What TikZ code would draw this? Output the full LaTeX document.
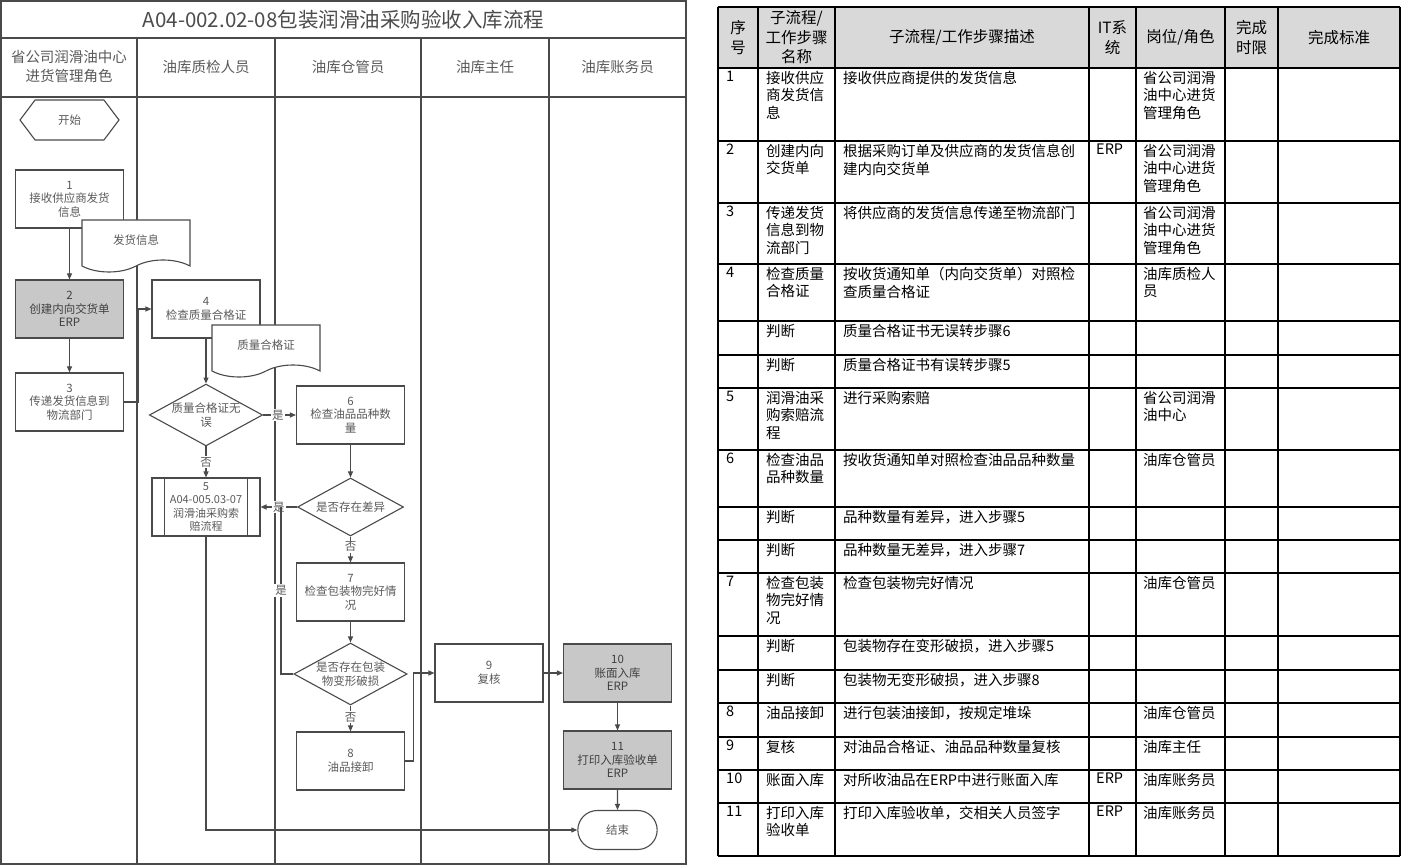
\documentclass[tikz,border=0pt]{standalone}
\usepackage{fontspec}
\setmainfont{Noto Sans CJK SC}
\usetikzlibrary{arrows.meta,shapes.geometric,shapes.symbols,shapes.misc}
\definecolor{lanecol}{HTML}{4A4A4A}
\definecolor{boxtxt}{HTML}{5A5A5A}
\definecolor{erpfill}{HTML}{C8C8C8}
\definecolor{headfill}{HTML}{D9D9D9}
\begin{document}
\begin{tikzpicture}[x=1pt,y=-1pt,
  every node/.style={font=\fontsize{11.5}{13.5}\selectfont,text=boxtxt},
  box/.style={draw=lanecol,line width=1.1pt,fill=white,minimum width=108pt,minimum height=58pt,inner sep=1pt,align=center},
  erpbox/.style={box,fill=erpfill,text=black!75},
  ppbox/.style={box,font=\fontsize{11}{13.5}\selectfont},
  dec/.style={draw=lanecol,line width=1.1pt,fill=white,diamond,aspect=1.83,minimum width=106pt,minimum height=58pt,inner sep=0pt,align=center},
  docbox/.style={draw=lanecol,line width=1.1pt,fill=white,tape,tape bend top=none,tape bend height=12pt,minimum width=108pt,minimum height=52pt,align=center},
  startbox/.style={draw=lanecol,line width=1.1pt,fill=white,signal,signal to=west and east,signal pointer angle=106,minimum width=99pt,minimum height=40pt},
  stopbox/.style={draw=lanecol,line width=1.1pt,fill=white,rounded rectangle,minimum width=86pt,minimum height=39pt},
  flow/.style={draw=lanecol,line width=1.1pt,-{Triangle[length=6pt,width=5pt]}},
  yesno/.style={fill=white,inner sep=1pt},
  lanehead/.style={align=center,font=\fontsize{14.5}{19}\selectfont},
  head/.style={align=center,text=black,font=\fontsize{15.5}{19.5}\selectfont},
  cell/.style={anchor=north west,inner sep=0pt,align=left,text=black,font=\fontsize{14.5}{17.5}\selectfont}]

\useasboundingbox (0,0) rectangle (1403,866);
\fill[white] (0,0) rectangle (1403,866);

% swimlanes
\draw[lanecol,line width=1.4pt] (1,1) rectangle (686,864);
\draw[lanecol,line width=1.4pt] (1,38) -- (686,38) (1,97) -- (686,97);
\foreach \lx in {137,275,421,549} \draw[lanecol,line width=1.4pt] (\lx,38) -- (\lx,864);
\node[font=\fontsize{20.5}{22}\selectfont,text=black!70] (title) at (343.5,20) {A04-002.02-08包装润滑油采购验收入库流程};
\node[lanehead] (lane1) at (69,67) {省公司润滑油中心\\进货管理角色};
\node[lanehead] (lane2) at (206,67) {油库质检人员};
\node[lanehead] (lane3) at (348,67) {油库仓管员};
\node[lanehead] (lane4) at (485,67) {油库主任};
\node[lanehead] (lane5) at (617.5,67) {油库账务员};

% steps
\node[startbox] (start) at (69.5,120) {开始};
\node[box] (s1) at (69.5,199) {1\\接收供应商发货\\信息};
\node[docbox] (doc1) at (136,240) {发货信息};
\node[erpbox] (s2) at (69.5,309) {2\\创建内向交货单\\ERP};
\node[box] (s3) at (69.5,402) {3\\传递发货信息到\\物流部门};
\node[box] (s4) at (206,309) {4\\检查质量合格证};
\node[docbox] (doc2) at (266,345) {质量合格证};
\node[dec] (d1) at (206,415) {质量合格证无\\误};
\node[box] (s6) at (350.5,415) {6\\检查油品品种数\\量};
\node[ppbox] (s5) at (206,507) {5\\A04-005.03-07\\润滑油采购索\\赔流程};
\draw[lanecol,line width=1.1pt] ([xshift=13pt]s5.north west) -- ([xshift=13pt]s5.south west) ([xshift=-13pt]s5.north east) -- ([xshift=-13pt]s5.south east);
\node[dec] (d2) at (350.5,507) {是否存在差异};
\node[box] (s7) at (350.5,592) {7\\检查包装物完好情\\况};
\node[dec] (d3) at (350.5,674) {是否存在包装\\物变形破损};
\node[box] (s8) at (350.5,761) {8\\油品接卸};
\node[box] (s9) at (489,673) {9\\复核};
\node[erpbox] (s10) at (617.5,673) {10\\账面入库\\ERP};
\node[erpbox] (s11) at (617.5,760) {11\\打印入库验收单\\ERP};
\node[stopbox] (stop) at (617.5,830) {结束};

\draw[flow] (s1) -- (s2);
\draw[flow] (s2) -- (s3);
\draw[flow] (s3.east) -- ++(14,0) |- (s4.west);
\draw[flow] (s4) -- (d1);
\draw[flow] (d1) -- node[yesno,pos=0.45]{是} (s6);
\draw[flow] (d1) -- node[yesno]{否} (s5);
\draw[flow] (s6) -- (d2);
\draw[flow] (d2) -- node[yesno,pos=0.5]{是} (s5);
\draw[flow] (d2) -- node[yesno,pos=0.4]{否} (s7);
\draw[flow] (s7) -- (d3);
\draw[flow] (d3) -- node[yesno,pos=0.45]{否} (s8);
\coordinate (back) at (281,507);
\draw[lanecol,line width=1.1pt] (d3.west) -| node[yesno,pos=0.75]{是} (back);
\draw[flow] (s8.east) -- ++(8,0) |- (s9.west);
\draw[flow] (s9) -- (s10);
\draw[flow] (s10) -- (s11);
\draw[flow] (s11) -- (stop);
\draw[flow] (s5) |- (stop);

% step table
\fill[headfill] (718,7) rectangle (1400,68);
\foreach \ry in {7,68,141,203,264,321,355,388,450,507,540,573,636,670,703,737,770,803,856}
  \draw[black,line width=1.8pt] (718,\ry) -- (1400,\ry);
\foreach \cx in {718,758,835,1089,1136,1225,1278,1400}
  \draw[black,line width=1.8pt] (\cx,7) -- (\cx,856);
\node[head] (h1) at (738,37.5) {序\\号};
\node[head] (h2) at (796.5,37.5) {子流程/\\工作步骤\\名称};
\node[head] (h3) at (962,37.5) {子流程/工作步骤描述};
\node[head] (h4) at (1112.5,37.5) {IT系\\统};
\node[head] (h5) at (1180.5,37.5) {岗位/角色};
\node[head] (h6) at (1251.5,37.5) {完成\\时限};
\node[head] (h7) at (1339,37.5) {完成标准};
\foreach \ry/\no/\nm/\ds/\it/\rl [count=\k] in {
  68/1/{接收供应\\商发货信\\息}/{接收供应商提供的发货信息}/{}/{省公司润滑\\油中心进货\\管理角色},
  141/2/{创建内向\\交货单}/{根据采购订单及供应商的发货信息创\\建内向交货单}/ERP/{省公司润滑\\油中心进货\\管理角色},
  203/3/{传递发货\\信息到物\\流部门}/{将供应商的发货信息传递至物流部门}/{}/{省公司润滑\\油中心进货\\管理角色},
  264/4/{检查质量\\合格证}/{按收货通知单（内向交货单）对照检\\查质量合格证}/{}/{油库质检人\\员},
  321/{}/判断/{质量合格证书无误转步骤6}/{}/{},
  355/{}/判断/{质量合格证书有误转步骤5}/{}/{},
  388/5/{润滑油采\\购索赔流\\程}/{进行采购索赔}/{}/{省公司润滑\\油中心},
  450/6/{检查油品\\品种数量}/{按收货通知单对照检查油品品种数量}/{}/{油库仓管员},
  507/{}/判断/{品种数量有差异，进入步骤5}/{}/{},
  540/{}/判断/{品种数量无差异，进入步骤7}/{}/{},
  573/7/{检查包装\\物完好情\\况}/{检查包装物完好情况}/{}/{油库仓管员},
  636/{}/判断/{包装物存在变形破损，进入步骤5}/{}/{},
  670/{}/判断/{包装物无变形破损，进入步骤8}/{}/{},
  703/8/{油品接卸}/{进行包装油接卸，按规定堆垛}/{}/{油库仓管员},
  737/9/{复核}/{对油品合格证、油品品种数量复核}/{}/{油库主任},
  770/10/{账面入库}/{对所收油品在ERP中进行账面入库}/ERP/{油库账务员},
  803/11/{打印入库\\验收单}/{打印入库验收单，交相关人员签字}/ERP/{油库账务员}} {
  \node[cell] (no\k) at (726,\ry+3) {\no};
  \node[cell] (nm\k) at (766,\ry+3) {\nm};
  \node[cell] (ds\k) at (843,\ry+3) {\ds};
  \node[cell] (it\k) at (1096,\ry+3) {\it};
  \node[cell] (rl\k) at (1143,\ry+3) {\rl};
}
\end{tikzpicture}
\end{document}
